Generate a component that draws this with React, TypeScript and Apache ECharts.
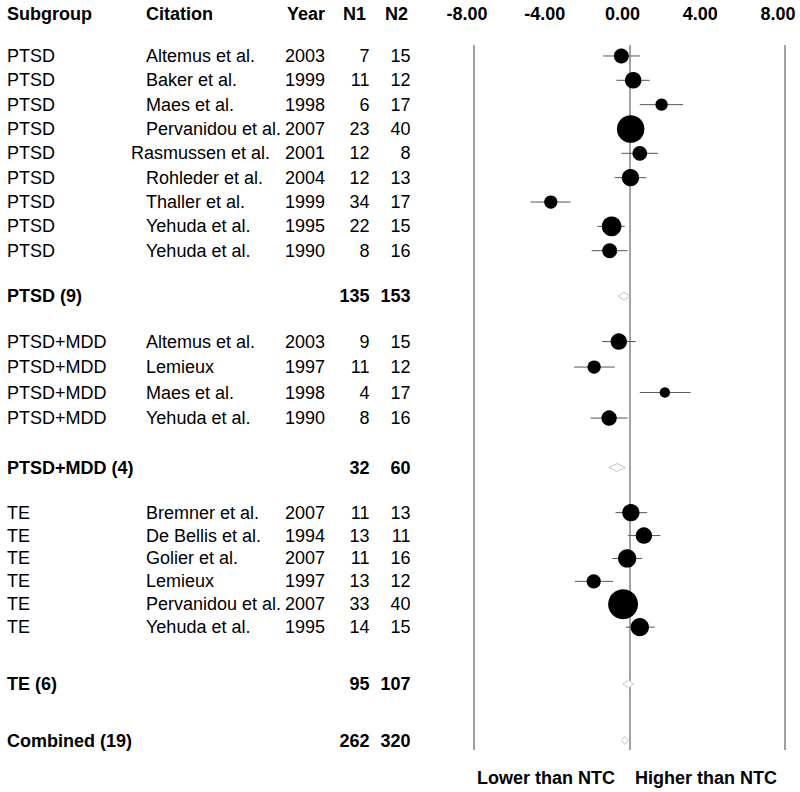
import React, { useEffect, useRef } from "react";
import * as echarts from "echarts";

// ---------- DATA ----------
const subgroupNames = ["PTSD", "PTSD+MDD", "TE"];

const ptsdCitations = ["Altemus et al.", "Baker et al.", "Maes et al.", "Pervanidou et al.", "Rasmussen et al.", "Rohleder et al.", "Thaller et al.", "Yehuda et al.", "Yehuda et al."];
const ptsdYears = [2003, 1999, 1998, 2007, 2001, 2004, 1999, 1995, 1990];
const ptsdN1 = [7, 11, 6, 23, 12, 12, 34, 22, 8];
const ptsdN2 = [15, 12, 17, 40, 8, 13, 17, 15, 16];
const ptsdEffect = [-0.42, 0.19, 1.65, 0.06, 0.53, 0.05, -4.05, -0.92, -1.02];
const ptsdLower = [-1.36, -0.67, 0.53, -0.45, -0.41, -0.76, -5.09, -1.65, -1.95];
const ptsdUpper = [0.53, 1.04, 2.76, 0.57, 1.47, 0.87, -3.03, -0.24, -0.1];
const ptsdWeight = [56, 69, 38, 190, 54, 75, 44, 97, 56];

const mddCitations = ["Altemus et al.", "Lemieux", "Maes et al.", "Yehuda et al."];
const mddYears = [2003, 1997, 1998, 1990];
const mddN1 = [9, 11, 4, 8];
const mddN2 = [15, 12, 17, 16];
const mddEffect = [-0.55, -1.82, 1.82, -1.05];
const mddLower = [-1.41, -2.85, 0.53, -2.0];
const mddUpper = [0.32, -0.76, 3.14, -0.1];
const mddWeight = [67, 44, 27, 59];

const teCitations = ["Bremner et al.", "De Bellis et al.", "Golier et al.", "Lemieux", "Pervanidou et al.", "Yehuda et al."];
const teYears = [2007, 1994, 2007, 1997, 2007, 1995];
const teN1 = [11, 13, 11, 13, 33, 14];
const teN2 = [13, 11, 16, 12, 40, 15];
const teEffect = [0.07, 0.74, -0.12, -1.84, -0.33, 0.53];
const teLower = [-0.72, -0.07, -0.89, -2.81, -0.75, -0.19];
const teUpper = [0.91, 1.59, 0.65, -0.84, 0.1, 1.3];
const teWeight = [75, 67, 84, 51, 225, 84];

const summaryLabels = ["PTSD (9)", "PTSD+MDD (4)", "TE (6)", "Combined (19)"];
const summaryN1 = [135, 32, 95, 262];
const summaryN2 = [153, 60, 107, 320];
const summaryEffect = [-0.28, -0.64, -0.05, -0.24];
const summaryLower = [-0.59, -1.06, -0.34, -0.41];
const summaryUpper = [0.02, -0.21, 0.22, -0.07];

const headerLabels = ["Subgroup", "Citation", "Year", "N1", "N2"];
const axisTicks = [-8, -4, 0, 4, 8];
const directionLabels = ["Lower than NTC", "Higher than NTC"];

// ---------- LAYOUT ----------
const FONT = "'Liberation Sans', Arial, Helvetica, sans-serif";
const PLOT_LEFT = 474;
const PLOT_RIGHT = 15;
const CIT_COL = 139;

let measureCtx: CanvasRenderingContext2D | null = null;
function textWidth(t: string) {
  if (!measureCtx) measureCtx = document.createElement("canvas").getContext("2d");
  if (!measureCtx) return 0;
  measureCtx.font = `18px ${FONT}`;
  return measureCtx.measureText(t).width;
}

type Section = {
  kind: "study" | "summary";
  rows: { text: string; est: number; lo: number; hi: number; w?: number }[];
  top: number;
  rowH: number;
};

function studyRows(sub: string, cit: string[], yr: number[], n1: number[], n2: number[], e: number[], lo: number[], hi: number[], w: number[]) {
  return cit.map((c, i) => {
    // citations too long for their column are pulled to the left (as in the source table)
    const long = textWidth(c) > CIT_COL - 2;
    const first = long ? `{sgS|${sub}}{citW|${c}}` : `{sg|${sub}}{cit|${c}}`;
    return {
      text: `${first}{yr|${yr[i]}}{n1|${n1[i]}}{n2|${n2[i]}}`,
      est: e[i],
      lo: lo[i],
      hi: hi[i],
      w: w[i],
    };
  });
}
function summaryRow(i: number) {
  return [{
    text: `{sgB|${summaryLabels[i]}}{cit| }{yr| }{n1B|${summaryN1[i]}}{n2B|${summaryN2[i]}}`,
    est: summaryEffect[i],
    lo: summaryLower[i],
    hi: summaryUpper[i],
  }];
}

const sections: Section[] = [
  { kind: "study", rows: studyRows(subgroupNames[0], ptsdCitations, ptsdYears, ptsdN1, ptsdN2, ptsdEffect, ptsdLower, ptsdUpper, ptsdWeight), top: 43.8, rowH: 24.34 },
  { kind: "summary", rows: summaryRow(0), top: 284.2, rowH: 24 },
  { kind: "study", rows: studyRows(subgroupNames[1], mddCitations, mddYears, mddN1, mddN2, mddEffect, mddLower, mddUpper, mddWeight), top: 328.8, rowH: 25.5 },
  { kind: "summary", rows: summaryRow(1), top: 455.5, rowH: 24 },
  { kind: "study", rows: studyRows(subgroupNames[2], teCitations, teYears, teN1, teN2, teEffect, teLower, teUpper, teWeight), top: 501.2, rowH: 22.9 },
  { kind: "summary", rows: summaryRow(2), top: 672, rowH: 24 },
  { kind: "summary", rows: summaryRow(3), top: 728.5, rowH: 24 },
];

const baseTxt = { fontSize: 18, fontFamily: FONT, color: "#000" };
const rowRich = {
  sg: { ...baseTxt, width: 139, align: "left" },
  sgS: { ...baseTxt, width: 124, align: "left" },
  sgB: { ...baseTxt, fontWeight: "bold", width: 139, align: "left" },
  cit: { ...baseTxt, width: CIT_COL, align: "left" },
  citW: { ...baseTxt, width: CIT_COL + 15, align: "left" },
  yr: { ...baseTxt, width: 40, align: "left" },
  n1: { ...baseTxt, width: 44.5, align: "right" },
  n2: { ...baseTxt, width: 41, align: "right" },
  n1B: { ...baseTxt, fontWeight: "bold", width: 44.5, align: "right" },
  n2B: { ...baseTxt, fontWeight: "bold", width: 41, align: "right" },
};
const headRich = {
  sg: { ...baseTxt, fontWeight: "bold", width: 139, align: "left" },
  cit: { ...baseTxt, fontWeight: "bold", width: 141, align: "left" },
  yr: { ...baseTxt, fontWeight: "bold", width: 40, align: "left" },
  n1: { ...baseTxt, fontWeight: "bold", width: 39, align: "right" },
  n2: { ...baseTxt, fontWeight: "bold", width: 42, align: "right" },
};

function buildOption() {
  const grid: any[] = [];
  const xAxis: any[] = [];
  const yAxis: any[] = [];
  const series: any[] = [];

  sections.forEach((s, si) => {
    grid.push({ left: PLOT_LEFT, right: PLOT_RIGHT, top: s.top, height: s.rows.length * s.rowH });
    xAxis.push({ type: "value", gridIndex: si, min: -8, max: 8, show: false });
    yAxis.push({
      type: "category",
      gridIndex: si,
      inverse: true,
      data: s.rows.map((_, i) => String(i)),
      axisLine: { show: false },
      axisTick: { show: false },
      splitLine: { show: false },
      axisLabel: {
        interval: 0,
        margin: PLOT_LEFT - 410.5,
        formatter: (_v: string, i: number) => s.rows[i].text,
        rich: rowRich,
      },
    });
    if (s.kind === "study") {
      series.push({
        type: "custom",
        xAxisIndex: si,
        yAxisIndex: si,
        z: 5,
        clip: false,
        encode: { x: [0, 2, 3], y: 1 },
        data: s.rows.map((r, i) => [r.est, i, r.lo, r.hi, r.w]),
        renderItem: (_p: any, api: any) => {
          const y = api.value(1);
          const pE = api.coord([api.value(0), y]);
          const pL = api.coord([api.value(2), y]);
          const pH = api.coord([api.value(3), y]);
          const r = Math.sqrt(api.value(4));
          return {
            type: "group",
            children: [
              { type: "line", shape: { x1: pL[0], y1: pE[1], x2: pH[0], y2: pE[1] }, style: { stroke: "#555", lineWidth: 1 } },
              { type: "circle", shape: { cx: pE[0], cy: pE[1], r }, style: { fill: "#000" } },
            ],
          };
        },
      });
    } else {
      series.push({
        type: "custom",
        xAxisIndex: si,
        yAxisIndex: si,
        z: 5,
        clip: false,
        encode: { x: [0, 2, 3], y: 1 },
        data: s.rows.map((r, i) => [r.est, i, r.lo, r.hi]),
        renderItem: (_p: any, api: any) => {
          const y = api.value(1);
          const pE = api.coord([api.value(0), y]);
          const pL = api.coord([api.value(2), y]);
          const pH = api.coord([api.value(3), y]);
          const h = 4;
          return {
            type: "polygon",
            shape: { points: [[pL[0], pE[1]], [pE[0], pE[1] - h], [pH[0], pE[1]], [pE[0], pE[1] + h]] },
            style: { fill: "#fff", stroke: "#c4c4c4", lineWidth: 1 },
          };
        },
      });
    }
  });

  // background grid: axis tick labels on top and reference lines
  const bg = sections.length;
  grid.push({ left: PLOT_LEFT, right: PLOT_RIGHT, top: 45, bottom: 42 });
  xAxis.push({
    type: "value",
    gridIndex: bg,
    position: "top",
    min: axisTicks[0],
    max: axisTicks[axisTicks.length - 1],
    interval: axisTicks[1] - axisTicks[0],
    axisLine: { show: false },
    axisTick: { show: false },
    splitLine: { show: false },
    axisLabel: {
      show: true,
      margin: 22,
      formatter: (v: number) => v.toFixed(2),
      fontSize: 18,
      fontWeight: "bold",
      fontFamily: FONT,
      color: "#000",
      padding: [0, 14, 0, 0],
    },
  });
  yAxis.push({ type: "value", gridIndex: bg, min: 0, max: 1, show: false });
  series.push({
    type: "scatter",
    xAxisIndex: bg,
    yAxisIndex: bg,
    z: 1,
    data: [],
    silent: true,
    markLine: {
      silent: true,
      symbol: ["none", "none"],
      label: { show: false },
      z: 1,
      data: [
        { xAxis: axisTicks[0], lineStyle: { color: "#808080", width: 1.5, type: "solid" } },
        { xAxis: 0, lineStyle: { color: "#a3a3a3", width: 2, type: "solid" } },
        { xAxis: axisTicks[axisTicks.length - 1], lineStyle: { color: "#808080", width: 1.5, type: "solid" } },
      ],
    },
  });

  const header = `{sg|${headerLabels[0]}}{cit|${headerLabels[1]}}{yr|${headerLabels[2]}}{n1|${headerLabels[3]}}{n2|${headerLabels[4]}}`;

  return {
    animation: false,
    backgroundColor: "#fff",
    title: {
      left: 7,
      top: 0,
      padding: [5, 0, 0, 0],
      text: header,
      textStyle: { ...baseTxt, fontWeight: "bold", rich: headRich },
    },
    grid,
    xAxis,
    yAxis,
    series,
    graphic: [
      {
        type: "text",
        x: 615,
        y: 778,
        style: {
          text: directionLabels[0],
          align: "right",
          textAlign: "right",
          verticalAlign: "middle",
          textVerticalAlign: "middle",
          fontSize: 18,
          fontWeight: "bold",
          fontFamily: FONT,
          fill: "#000",
        },
      },
      {
        type: "text",
        x: 635,
        y: 778,
        style: {
          text: directionLabels[1],
          align: "left",
          textAlign: "left",
          verticalAlign: "middle",
          textVerticalAlign: "middle",
          fontSize: 18,
          fontWeight: "bold",
          fontFamily: FONT,
          fill: "#000",
        },
      },
    ],
  };
}

export default function App() {
  const ref = useRef<HTMLDivElement>(null);
  useEffect(() => {
    if (!ref.current) return;
    const chart = echarts.init(ref.current, null, { renderer: "svg" });
    chart.setOption(buildOption() as any);
    return () => chart.dispose();
  }, []);
  return (
    <div
      ref={ref}
      style={{ position: "fixed", left: 0, top: 0, width: 800, height: 792, background: "#fff" }}
    />
  );
}
